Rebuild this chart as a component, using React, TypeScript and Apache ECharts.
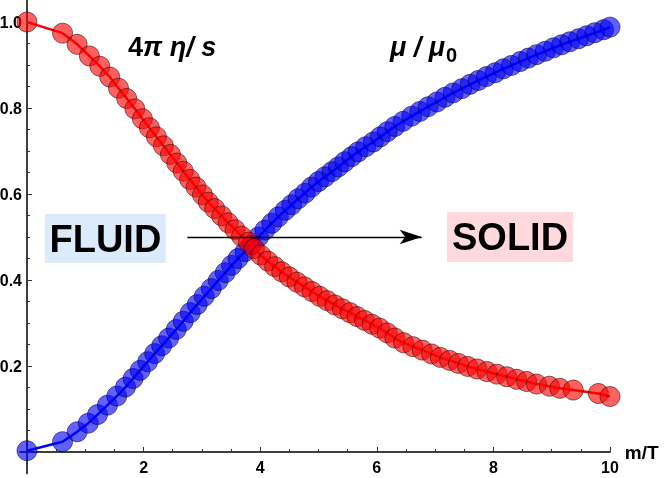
import React, { useEffect, useRef } from "react";
import * as echarts from "echarts";

// 4π η/s (red)
const redX = [0, 0.61, 0.86, 1.07, 1.25, 1.42, 1.57, 1.71, 1.85, 1.98, 2.1, 2.22, 2.34, 2.46, 2.57, 2.68, 2.79, 2.9, 3.01, 3.11, 3.22, 3.34, 3.45, 3.57, 3.68, 3.8, 3.9, 4.01, 4.13, 4.25, 4.37, 4.5, 4.63, 4.76, 4.89, 5.02, 5.15, 5.28, 5.41, 5.54, 5.66, 5.79, 5.92, 6.05, 6.18, 6.31, 6.46, 6.62, 6.78, 6.94, 7.09, 7.25, 7.4, 7.56, 7.72, 7.89, 8.06, 8.23, 8.4, 8.57, 8.74, 8.96, 9.14, 9.37, 9.8, 10.0];
const redY = [1.0, 0.974, 0.948, 0.921, 0.897, 0.872, 0.846, 0.822, 0.798, 0.775, 0.754, 0.733, 0.712, 0.692, 0.672, 0.653, 0.634, 0.616, 0.598, 0.581, 0.566, 0.549, 0.533, 0.517, 0.502, 0.488, 0.473, 0.458, 0.444, 0.431, 0.419, 0.407, 0.395, 0.384, 0.373, 0.362, 0.352, 0.342, 0.333, 0.324, 0.315, 0.306, 0.297, 0.288, 0.277, 0.265, 0.254, 0.245, 0.237, 0.228, 0.22, 0.213, 0.206, 0.199, 0.193, 0.187, 0.181, 0.175, 0.169, 0.164, 0.158, 0.153, 0.148, 0.144, 0.136, 0.129];

// μ/μ0 (blue)
const blueX = [0, 0.61, 0.86, 1.05, 1.21, 1.38, 1.54, 1.69, 1.82, 1.94, 2.07, 2.19, 2.31, 2.43, 2.56, 2.68, 2.8, 2.92, 3.04, 3.16, 3.28, 3.4, 3.51, 3.62, 3.74, 3.85, 3.97, 4.08, 4.2, 4.31, 4.43, 4.54, 4.65, 4.77, 4.88, 5.0, 5.11, 5.23, 5.34, 5.45, 5.57, 5.68, 5.81, 5.94, 6.06, 6.18, 6.31, 6.45, 6.6, 6.74, 6.88, 7.03, 7.17, 7.31, 7.46, 7.6, 7.74, 7.88, 8.03, 8.17, 8.31, 8.46, 8.6, 8.74, 8.89, 9.03, 9.17, 9.31, 9.46, 9.6, 9.74, 9.89, 10.0];
const blueY = [0.003, 0.024, 0.047, 0.067, 0.087, 0.109, 0.13, 0.151, 0.171, 0.19, 0.21, 0.229, 0.247, 0.265, 0.285, 0.304, 0.324, 0.343, 0.362, 0.38, 0.399, 0.417, 0.434, 0.45, 0.466, 0.482, 0.5, 0.516, 0.532, 0.547, 0.562, 0.575, 0.589, 0.602, 0.616, 0.629, 0.64, 0.652, 0.663, 0.675, 0.687, 0.698, 0.71, 0.721, 0.733, 0.745, 0.757, 0.769, 0.781, 0.792, 0.803, 0.814, 0.825, 0.835, 0.845, 0.855, 0.864, 0.873, 0.882, 0.891, 0.899, 0.908, 0.916, 0.924, 0.932, 0.94, 0.947, 0.954, 0.961, 0.968, 0.975, 0.982, 0.988];

const xMajorTicks = [2, 4, 6, 8, 10];
const xMinorTicks = [0.5, 1, 1.5, 2.5, 3, 3.5, 4.5, 5, 5.5, 6.5, 7, 7.5, 8.5, 9, 9.5];
const yMajorTicks = [0.2, 0.4, 0.6, 0.8, 1.0];
const yMinorTicks = [0.05, 0.1, 0.15, 0.25, 0.3, 0.35, 0.45, 0.5, 0.55, 0.65, 0.7, 0.75, 0.85, 0.9, 0.95];

const arrowFrom = [2.75, 0.5];
const arrowTo = [6.77, 0.5];

const FONT = '"Liberation Sans", Arial, sans-serif';

// axis ranges
const X_MIN = -0.12, X_MAX = 10;
const Y_MIN = -0.05, Y_MAX = 1.05;
const GRID_LEFT = 20, GRID_TOP = 0.5, GRID_W = 590, GRID_H = 473;

export default function App() {
  const ref = useRef<HTMLDivElement>(null);
  useEffect(() => {
    const chart = echarts.init(ref.current!, null, { renderer: "svg" });
    const zip = (xs: number[], ys: number[]) => xs.map((x, i) => [x, ys[i]]);
    const axisLineStyle = { color: "#333", width: 1.5 };
    const tickLabelRich = { t: { fontSize: 16, fontWeight: "bold", color: "#000", fontFamily: FONT } };
    // shift the axes so they pass through zero (like crossing axes)
    const yOffset = -((0 - X_MIN) / (X_MAX - X_MIN)) * GRID_W;
    const xOffset = -((0 - Y_MIN) / (Y_MAX - Y_MIN)) * GRID_H;
    const option: any = {
      animation: false,
      textStyle: { fontFamily: FONT },
      grid: { left: GRID_LEFT, top: GRID_TOP, width: GRID_W, height: GRID_H, containLabel: false, outerBoundsMode: "none" },
      xAxis: [
        {
          type: "value", min: X_MIN, max: X_MAX, position: "bottom", offset: xOffset,
          axisLine: { onZero: false, lineStyle: axisLineStyle },
          axisTick: { show: true, inside: true, length: 5, customValues: xMajorTicks, lineStyle: { color: "#333", width: 1 } },
          axisLabel: {
            customValues: xMajorTicks, fontWeight: "bold", fontSize: 16, color: "#000", margin: 7, fontFamily: FONT,
            formatter: (v: number) => `{t|${v}}`, rich: tickLabelRich,
          },
          splitLine: { show: false },
          name: "m/T", nameLocation: "end", nameGap: 12,
          nameTextStyle: { fontSize: 19, fontWeight: "bold", color: "#000", fontFamily: FONT },
        },
        {
          type: "value", min: X_MIN, max: X_MAX, position: "bottom", offset: xOffset,
          axisLine: { onZero: false, lineStyle: axisLineStyle },
          axisTick: { show: true, inside: true, length: 3, customValues: xMinorTicks, lineStyle: { color: "#333", width: 1 } },
          axisLabel: { show: false },
          splitLine: { show: false },
        },
      ],
      yAxis: [
        {
          type: "value", min: Y_MIN, max: Y_MAX, position: "left", offset: yOffset,
          axisLine: { onZero: false, lineStyle: axisLineStyle },
          axisTick: { show: true, inside: true, length: 5, customValues: yMajorTicks, lineStyle: { color: "#333", width: 1 } },
          axisLabel: {
            customValues: yMajorTicks, fontWeight: "bold", fontSize: 16, color: "#000", margin: 5, fontFamily: FONT,
            formatter: (v: number) => `{t|${v.toFixed(1)}}`, rich: tickLabelRich,
          },
          splitLine: { show: false },
        },
        {
          type: "value", min: Y_MIN, max: Y_MAX, position: "left", offset: yOffset,
          axisLine: { onZero: false, lineStyle: axisLineStyle },
          axisTick: { show: true, inside: true, length: 3, customValues: yMinorTicks, lineStyle: { color: "#333", width: 1 } },
          axisLabel: { show: false },
          splitLine: { show: false },
        },
      ],
      series: [
        {
          type: "line", name: "mu", data: zip(blueX, blueY), clip: false,
          symbol: "circle", symbolSize: 20,
          lineStyle: { color: "#0000ff", width: 2.5 },
          itemStyle: { color: "rgba(0,0,255,0.62)", borderColor: "rgba(0,0,40,0.55)", borderWidth: 1 },
          z: 2,
        },
        {
          type: "line", name: "eta", data: zip(redX, redY), clip: false,
          symbol: "circle", symbolSize: 20,
          lineStyle: { color: "#ff0000", width: 2.5 },
          itemStyle: { color: "rgba(255,0,0,0.62)", borderColor: "rgba(40,0,0,0.55)", borderWidth: 1 },
          z: 3,
        },
        {
          type: "line", data: [], z: 4,
          markLine: {
            silent: true, animation: false,
            symbol: ["none", "arrow"], symbolSize: [11, 22],
            lineStyle: { color: "#000", width: 1.3, type: "solid" },
            label: { show: false },
            data: [[{ coord: arrowFrom }, { coord: arrowTo }]],
          },
        },
      ],
      graphic: [
        {
          type: "text", x: 128, y: 46.6, z: 10,
          style: {
            text: "{a|4}{b|π η/ s}",
            verticalAlign: "middle", align: "left",
            rich: {
              a: { fontSize: 27, fontWeight: "bold", fontFamily: FONT, fill: "#000" },
              b: { fontSize: 27, fontWeight: "bold", fontStyle: "italic", fontFamily: FONT, fill: "#000" },
            },
          },
        },
        {
          type: "text", x: 390, y: 46.6, z: 10,
          style: { text: "μ / μ", font: `italic bold 27px ${FONT}`, fill: "#000", verticalAlign: "middle", align: "left" },
        },
        {
          type: "text", x: 446, y: 54.5, z: 10,
          style: { text: "0", font: `bold 20px ${FONT}`, fill: "#000", verticalAlign: "middle", align: "left" },
        },
        {
          type: "text", x: 45, y: 214, z: 10,
          style: { text: "FLUID", font: `bold 38px ${FONT}`, fill: "#000", backgroundColor: "#dcebfb", padding: [5.5, 4.5, 5.5, 4.5], verticalAlign: "top", align: "left" },
        },
        {
          type: "text", x: 447, y: 212, z: 10,
          style: { text: "SOLID", font: `bold 38px ${FONT}`, fill: "#000", backgroundColor: "#ffd9dc", padding: [6, 5, 6, 5], verticalAlign: "top", align: "left" },
        },
      ],
    };
    chart.setOption(option);
    return () => chart.dispose();
  }, []);
  return <div ref={ref} style={{ position: "fixed", left: 0, top: 0, width: 664, height: 478 }} />;
}
